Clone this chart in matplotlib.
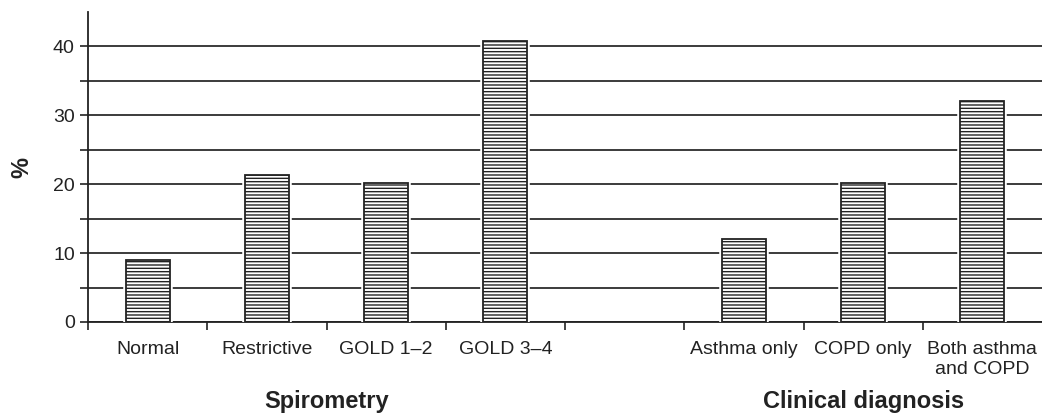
import matplotlib.pyplot as plt
from matplotlib.ticker import FixedLocator

plt.rcParams['font.family'] = ['Liberation Sans', 'DejaVu Sans']
plt.rcParams['hatch.linewidth'] = 1.0
plt.rcParams['hatch.color'] = '#222222'

labels = ['Normal', 'Restrictive', 'GOLD 1\u20132', 'GOLD 3\u20134', '',
          'Asthma only', 'COPD only', 'Both asthma\nand COPD']
values = [9.0, 21.4, 20.2, 40.8, None, 12.1, 20.2, 32.1]
groups = ['Spirometry', 'Clinical diagnosis']

txt = '#222222'
fig = plt.figure(figsize=(10.42, 4.18), dpi=100)
ax = fig.add_axes([88 / 1042, 96 / 418, 954 / 1042, 310 / 418])

pos = [i for i, v in enumerate(values) if v is not None]
vals = [v for v in values if v is not None]
# white halo so the gridlines stop short of each bar
ax.bar(pos, vals, width=0.37, color='white', edgecolor='white', linewidth=4, zorder=3)
ax.bar(pos, vals, width=0.37, color='white', edgecolor='#222222', linewidth=1.3,
       hatch='-----', zorder=4)

ax.set_xlim(-0.5, 7.5)
ax.set_ylim(0, 45)
ax.yaxis.set_major_locator(FixedLocator([0, 10, 20, 30, 40]))
ax.yaxis.set_minor_locator(FixedLocator([5, 15, 25, 35]))
ax.grid(axis='y', which='both', color='#1a1a1a', linewidth=1.2, zorder=1)
ax.set_axisbelow(True)

ax.set_xticks(range(len(labels)))
ax.set_xticklabels(labels, fontsize=14, color=txt, linespacing=1.2)
ax.xaxis.set_minor_locator(FixedLocator([i - 0.5 for i in range(len(labels))]))
ax.tick_params(axis='x', which='major', length=0, pad=14)
ax.tick_params(axis='x', which='minor', length=6, width=1.2, direction='out', color='#222222')
ax.tick_params(axis='y', which='both', length=6, width=1.2, direction='out', color='#222222',
               labelsize=14, labelcolor=txt)

for s in ['top', 'right']:
    ax.spines[s].set_visible(False)
for s in ['left', 'bottom']:
    ax.spines[s].set_color('#222222')
    ax.spines[s].set_linewidth(1.3)

ax.set_ylabel('%', fontsize=17, fontweight='bold', color=txt, labelpad=14)

fig.text(327 / 1042, 0.04, groups[0], fontsize=17, fontweight='bold', color=txt,
         ha='center', va='center')
fig.text(864 / 1042, 0.04, groups[1], fontsize=17, fontweight='bold', color=txt,
         ha='center', va='center')

fig.savefig('out.png', dpi=100)
